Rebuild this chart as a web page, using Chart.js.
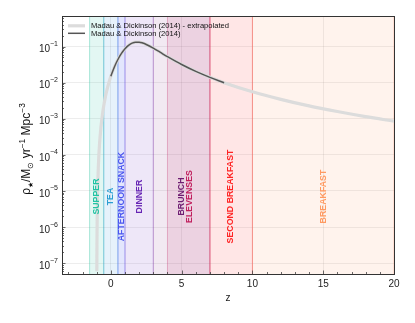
<!DOCTYPE html>
<html><head><meta charset="utf-8">
<script src="https://cdn.jsdelivr.net/npm/chart.js@4/dist/chart.umd.min.js"></script>
<style>html,body{margin:0;padding:0;background:#fff}</style>
</head><body>
<canvas id="c" width="415" height="323"></canvas>
<script>
// ---- data ----
const zExtrap = [-0.99,-0.98,-0.97,-0.95,-0.9,-0.85,-0.8,-0.7,-0.6,-0.5,-0.4,-0.3,-0.2,0,0.25,0.5,0.75,1,1.25,1.5,1.75,2,2.25,2.5,3,3.5,4,5,6,7,8,10,12,14,16,18,20];
const sfrExtrap = [6.0e-8,3.9e-7,1.16e-6,4.6e-6,3.0e-5,8.9e-5,1.94e-4,5.8e-4,1.26e-3,2.31e-3,3.78e-3,5.73e-3,8.2e-3,0.0150,0.0272,0.0437,0.0642,0.0867,0.108,0.124,0.132,0.132,0.125,0.114,0.0898,0.0685,0.0523,0.0317,0.0205,0.0140,0.00994,0.00556,0.00343,0.00226,0.00158,0.00114,0.000853];
const zObs = [0,0.25,0.5,0.75,1,1.25,1.5,1.75,2,2.25,2.5,3,3.5,4,5,6,7,8];
const sfrObs = [0.0150,0.0272,0.0437,0.0642,0.0867,0.108,0.124,0.132,0.132,0.125,0.114,0.0898,0.0685,0.0523,0.0317,0.0205,0.0140,0.00994];
const seriesLabels = ['Madau & Dickinson (2014) - extrapolated','Madau & Dickinson (2014)'];

const mealNames  = ['SUPPER','TEA','AFTERNOON SNACK','DINNER','BRUNCH','ELEVENSES','SECOND BREAKFAST','BREAKFAST'];
const mealStart  = [-1.5,-0.5,0.5,1,3,4,7,10];
const mealEnd    = [-0.5,0.5,1,3,7,7,10,20];
const mealLabelZ = [-1.0,-0.05,0.75,2.0,5.0,5.57,8.45,15.0];
const mealLabelY = 7e-6;

const xTicks = [0,5,10,15,20];
const yTicks = [1e-7,1e-6,1e-5,1e-4,1e-3,1e-2,1e-1];
const yTickExp = ['\u22127','\u22126','\u22125','\u22124','\u22123','\u22122','\u22121'];

// ---- styles ----
const FF = '"Liberation Sans", Arial, Helvetica, sans-serif';
const mealFill  = ['rgba(26,188,156,0.12)','rgba(52,152,219,0.12)','rgba(70,90,240,0.15)','rgba(120,70,200,0.13)','rgba(130,40,130,0.10)','rgba(190,40,100,0.12)','rgba(255,60,60,0.13)','rgba(255,140,80,0.10)'];
const mealEdge  = ['rgba(26,188,156,0.35)','rgba(52,152,219,0.35)','rgba(70,90,240,0.35)','rgba(120,70,200,0.3)','rgba(130,40,130,0.25)','rgba(190,40,100,0.3)','rgba(240,60,80,0.45)','rgba(255,140,110,0.4)'];
const mealText  = ['#22c3a3','#2b9fd2','#4a55f0','#6624b4','#6e1e72','#c0205e','#ff2424','#ff9a62'];

const mealsPlugin = {
  id: 'meals',
  beforeDatasetsDraw(chart) {
    const {ctx, chartArea: a, scales: {x}} = chart;
    ctx.save();
    ctx.beginPath(); ctx.rect(a.left, a.top, a.right - a.left, a.bottom - a.top); ctx.clip();
    mealStart.forEach((s, i) => {
      const x0 = x.getPixelForValue(s), x1 = x.getPixelForValue(mealEnd[i]);
      ctx.fillStyle = mealFill[i];
      ctx.fillRect(x0, a.top, x1 - x0, a.bottom - a.top);
      ctx.strokeStyle = mealEdge[i]; ctx.lineWidth = 1;
      ctx.beginPath();
      ctx.moveTo(x0, a.top); ctx.lineTo(x0, a.bottom);
      ctx.moveTo(x1, a.top); ctx.lineTo(x1, a.bottom);
      ctx.stroke();
    });
    ctx.restore();
  },
  afterDatasetsDraw(chart) {
    const {ctx, scales: {x, y}} = chart;
    ctx.save();
    ctx.font = 'bold 8.8px ' + FF;
    ctx.textAlign = 'center'; ctx.textBaseline = 'middle';
    mealNames.forEach((n, i) => {
      ctx.save();
      ctx.translate(x.getPixelForValue(mealLabelZ[i]), y.getPixelForValue(mealLabelY));
      ctx.rotate(-Math.PI / 2);
      ctx.fillStyle = mealText[i];
      ctx.fillText(n, 0, 0);
      ctx.restore();
    });
    ctx.restore();
  },
  afterDraw(chart) {
    const {ctx, chartArea: a, scales: {x, y}} = chart;
    ctx.save();
    // inward ticks
    ctx.strokeStyle = '#444'; ctx.lineWidth = 0.8;
    ctx.beginPath();
    for (let v = Math.ceil(x.min); v <= x.max; v++) {
      const px = Math.round(x.getPixelForValue(v)) + 0.5;
      const len = (v % 5 === 0) ? 3.5 : 2;
      ctx.moveTo(px, a.bottom); ctx.lineTo(px, a.bottom - len);
    }
    for (let d = -8; d <= 0; d++) {
      for (let m = 1; m <= 9; m++) {
        const v = m * Math.pow(10, d);
        if (v < y.min || v > y.max) continue;
        const py = Math.round(y.getPixelForValue(v)) + 0.5;
        const len = (m === 1) ? 3.5 : 2;
        ctx.moveTo(a.left, py); ctx.lineTo(a.left + len, py);
      }
    }
    ctx.stroke();
    // frame
    ctx.strokeStyle = '#333'; ctx.lineWidth = 1;
    ctx.strokeRect(Math.round(a.left) + 0.5, Math.round(a.top) + 0.5, Math.round(a.right - a.left), Math.round(a.bottom - a.top));
    // y tick labels: 10 with superscript exponent
    ctx.fillStyle = '#222'; ctx.textAlign = 'right';
    yTicks.forEach((v, i) => {
      const py = y.getPixelForValue(v);
      ctx.font = '7px ' + FF; ctx.textBaseline = 'alphabetic';
      const ew = ctx.measureText(yTickExp[i]).width;
      ctx.fillText(yTickExp[i], a.left - 4, py - 0.5);
      ctx.font = '10px ' + FF; ctx.textBaseline = 'middle';
      ctx.fillText('10', a.left - 4 - ew, py + 3);
    });
    // legend
    ctx.font = '7.6px ' + FF;
    ctx.textBaseline = 'middle'; ctx.textAlign = 'left';
    chart.data.datasets.forEach((ds, i) => {
      const ly = a.top + 9.8 + i * 7.5;
      ctx.strokeStyle = ds.borderColor; ctx.lineWidth = ds.borderWidth;
      ctx.beginPath(); ctx.moveTo(a.left + 6, ly); ctx.lineTo(a.left + 23, ly); ctx.stroke();
      ctx.fillStyle = '#111';
      ctx.fillText(ds.label, a.left + 29, ly + 0.3);
    });
    // y-axis title with sub/superscripts
    const segs = [
      {t: '\u03C1', s: 12, dy: 0}, {t: '\u2605', s: 6.5, dy: 2.6}, {t: '/M', s: 12, dy: 0},
      {t: '\u2299', s: 8.4, dy: 2.6}, {t: ' yr', s: 12, dy: 0}, {t: '\u22121', s: 8.4, dy: -5},
      {t: ' Mpc', s: 12, dy: 0}, {t: '\u22123', s: 8.4, dy: -5}
    ];
    let total = 0;
    segs.forEach(g => { ctx.font = g.s + 'px ' + FF; g.w = ctx.measureText(g.t).width; total += g.w; });
    ctx.translate(30, (a.top + a.bottom) / 2 + 4);
    ctx.rotate(-Math.PI / 2);
    ctx.textBaseline = 'alphabetic'; ctx.fillStyle = '#111';
    let cx = -total / 2;
    segs.forEach(g => { ctx.font = g.s + 'px ' + FF; ctx.fillText(g.t, cx, g.dy); cx += g.w; });
    ctx.restore();
  }
};

new Chart(document.getElementById('c'), {
  type: 'line',
  data: {
    datasets: [
      {label: seriesLabels[0], data: zExtrap.map((z, i) => ({x: z, y: sfrExtrap[i]})),
       borderColor: '#dcdcdc', borderWidth: 3.2, pointRadius: 0, cubicInterpolationMode: 'monotone', order: 2, fill: false},
      {label: seriesLabels[1], data: zObs.map((z, i) => ({x: z, y: sfrObs[i]})),
       borderColor: '#555555', borderWidth: 1.5, pointRadius: 0, cubicInterpolationMode: 'monotone', order: 1, fill: false}
    ]
  },
  options: {
    responsive: false, animation: false,
    layout: {padding: {left: 0, right: 21, top: 16, bottom: 0}},
    plugins: {legend: {display: false}, tooltip: {enabled: false}},
    scales: {
      x: {
        type: 'linear', min: -3.45, max: 20,
        afterBuildTicks: s => { s.ticks = xTicks.map(v => ({value: v})); },
        afterFit: s => { s.height = 49; },
        grid: {color: 'rgba(0,0,0,0.07)', lineWidth: 1, drawTicks: false},
        border: {display: false},
        ticks: {padding: 4, color: '#222', maxRotation: 0, font: {family: FF, size: 10}, callback: v => String(v)},
        title: {display: true, text: 'z', color: '#222', font: {family: FF, size: 10}, padding: {top: 0, bottom: 19}}
      },
      y: {
        type: 'logarithmic', min: 5e-8, max: 0.7,
        afterBuildTicks: s => { s.ticks = yTicks.map(v => ({value: v})); },
        afterFit: s => { s.width = 62; },
        grid: {color: 'rgba(0,0,0,0.07)', lineWidth: 1, drawTicks: false},
        border: {display: false},
        ticks: {display: false}
      }
    }
  },
  plugins: [mealsPlugin]
});
</script>
</body></html>
